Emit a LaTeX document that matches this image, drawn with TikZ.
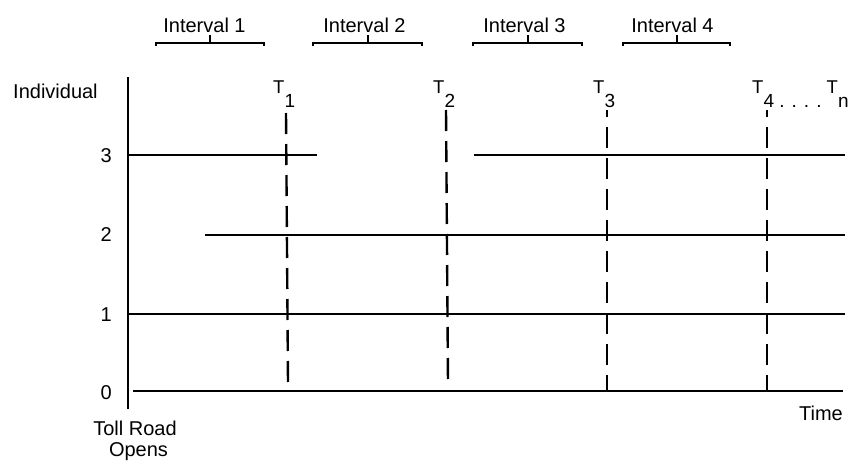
\documentclass[tikz,border=0pt]{standalone}
\usepackage{fontspec}
\setmainfont{Liberation Sans}
\newcommand{\lowered}[1]{\raisebox{-14pt}{\fontsize{19}{22}\selectfont #1}}
\begin{document}
\begin{tikzpicture}[x=1pt,y=-1pt,
  lbl/.style={inner sep=0pt, font=\fontsize{20}{24}\selectfont},
  tlbl/.style={inner sep=0pt, anchor=base west, font=\fontsize{18.5}{20}\selectfont},
  level/.style={line width=2pt},
  axisline/.style={line width=2.6pt},
  marker/.style={line width=2.4pt, dash pattern=on 21pt off 10pt},
  bracket/.style={line width=2pt}]
\useasboundingbox (0,0) rectangle (859,461);

% vertical axis
\coordinate (axT) at (128,77);
\coordinate (axB) at (128,409);
\draw[axisline] (axT) -- (axB);

% individuals' time lines
\coordinate (l3a) at (129,155);   \coordinate (l3b) at (317,155);
\coordinate (l3c) at (474,155);   \coordinate (l3d) at (845,155);
\coordinate (l2a) at (205,234.5); \coordinate (l2b) at (845,234.5);
\coordinate (l1a) at (129,314);   \coordinate (l1b) at (845,314);
\coordinate (l0a) at (133,391);   \coordinate (l0b) at (843,391);
\draw[level] (l3a) -- (l3b);
\draw[level] (l3c) -- (l3d);
\draw[level] (l2a) -- (l2b);
\draw[level] (l1a) -- (l1b);
\draw[level] (l0a) -- (l0b);

% time markers
\coordinate (m1t) at (286,113); \coordinate (m1b) at (288,383);
\coordinate (m2t) at (446,110); \coordinate (m2b) at (448,383);
\coordinate (m3t) at (607,110); \coordinate (m3b) at (607,391);
\coordinate (m4t) at (767,110); \coordinate (m4b) at (767,391);
\draw[marker] (m1t) -- (m1b);
\draw[marker] (m2t) -- (m2b);
\draw[marker, dash phase=14pt] (m3t) -- (m3b);
\draw[marker, dash phase=14pt] (m4t) -- (m4b);

% marker labels
\node[tlbl] (t1) at (273,93) {T\lowered{1}};
\node[tlbl] (t2) at (433,93) {T\lowered{2}};
\node[tlbl] (t3) at (593,93) {T\lowered{3}};
\node[tlbl] (t4) at (752,93) {T\lowered{4 . . . .} T\lowered{n}};

% interval brackets
\foreach \a/\b/\c in {156/264/210, 313/422/368, 473/582/528, 623/730/677}{
  \draw[bracket] (\a,46) -- (\a,43) -- (\b,43) -- (\b,46);
  \draw[bracket] (\c,43) -- (\c,35);
}
\node[lbl, anchor=base] (iv1) at (204.5,32) {Interval 1};
\node[lbl, anchor=base] (iv2) at (364.5,32) {Interval 2};
\node[lbl, anchor=base] (iv3) at (524.5,32) {Interval 3};
\node[lbl, anchor=base] (iv4) at (672.5,32) {Interval 4};

% axis labels
\node[lbl, anchor=base west] (ind) at (13,98) {Individual};
\node[lbl, anchor=base east] (n3) at (112,162) {3};
\node[lbl, anchor=base east] (n2) at (112,241.5) {2};
\node[lbl, anchor=base east] (n1) at (112,321) {1};
\node[lbl, anchor=base east] (n0) at (112,399) {0};
\node[lbl, anchor=base] (toll) at (135,435) {Toll Road};
\node[lbl, anchor=base] (opens) at (138.5,456.5) {Opens};
\node[lbl, anchor=base east] (time) at (843,420) {Time};
\end{tikzpicture}
\end{document}
